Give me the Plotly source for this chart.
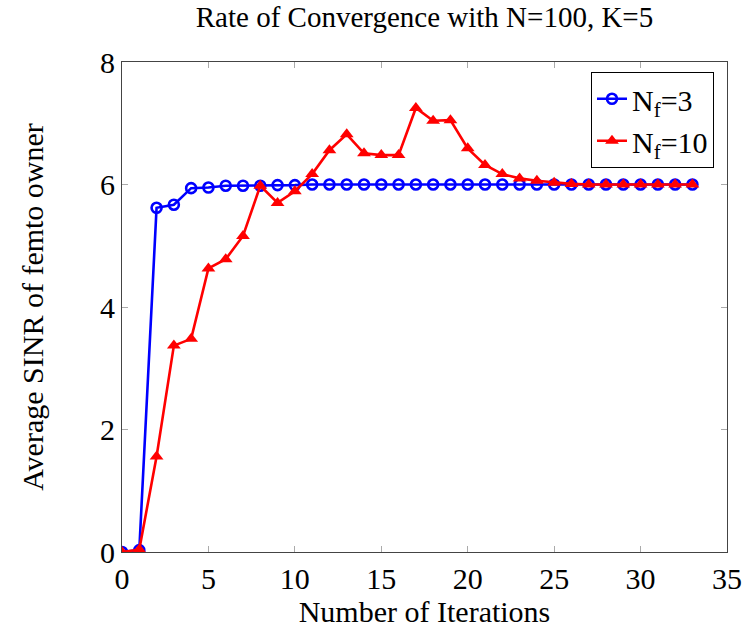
import plotly.graph_objects as go

iterations = list(range(34))
sinr_nf3 = [0.0, 0.03, 5.62, 5.67, 5.94, 5.95, 5.98, 5.98, 5.98, 5.99,
            5.99, 6.0, 6.0, 6.0, 6.0, 6.0, 6.0, 6.0, 6.0, 6.0,
            6.0, 6.0, 6.0, 6.0, 6.0, 6.0, 6.0, 6.0, 6.0, 6.0,
            6.0, 6.0, 6.0, 6.0]
sinr_nf10 = [0.0, 0.04, 1.56, 3.37, 3.48, 4.63, 4.78, 5.16, 5.98, 5.70,
             5.89, 6.17, 6.56, 6.82, 6.51, 6.48, 6.48, 7.25, 7.04, 7.05,
             6.59, 6.32, 6.17, 6.10, 6.06, 6.03, 6.01, 6.0, 6.0, 6.0,
             6.0, 6.0, 6.0, 6.0]
x_ticks = [0, 5, 10, 15, 20, 25, 30, 35]
y_ticks = [0, 2, 4, 6, 8]

FONT = "Liberation Serif"
FS = 30

fig = go.Figure()
fig.add_trace(go.Scatter(
    x=iterations, y=sinr_nf3, mode="lines+markers", name="N<sub>f</sub>=3",
    line=dict(color="#0000ff", width=2.6),
    marker=dict(symbol="circle-open", size=10, color="#0000ff", line=dict(width=2.6, color="#0000ff")),
))
fig.add_trace(go.Scatter(
    x=iterations, y=sinr_nf10, mode="lines+markers", name="N<sub>f</sub>=10",
    line=dict(color="#ff0000", width=2.6),
    marker=dict(symbol="triangle-up", size=12, color="#ff0000"),
))

axis_common = dict(
    showgrid=False, zeroline=False, showline=True, linecolor="#444444", linewidth=1.2,
    mirror="ticks", ticks="inside", ticklen=6, tickcolor="#aaaaaa", tickwidth=1,
    tickfont=dict(family=FONT, size=FS, color="black"), automargin=False,
)

fig.update_layout(
    width=743, height=630,
    margin=dict(l=122, r=16, t=62, b=78),
    paper_bgcolor="white", plot_bgcolor="white",
    title=dict(text="Rate of Convergence with N=100, K=5", x=(122 + 727) / 2 / 743, xanchor="center",
               y=1 - 17 / 630, yanchor="middle",
               font=dict(family=FONT, size=FS - 1, color="black")),
    xaxis=dict(range=[0, 35], tickvals=x_ticks,
               title=dict(text="Number of Iterations", font=dict(family=FONT, size=FS, color="black"), standoff=6),
               **axis_common),
    yaxis=dict(range=[0, 8], tickvals=y_ticks,
               title=dict(text="Average SINR of femto owner", font=dict(family=FONT, size=FS, color="black"), standoff=47),
               **axis_common),
    legend=dict(x=0.9785, y=0.98, xanchor="right", yanchor="top",
                bordercolor="black", borderwidth=1, bgcolor="white",
                font=dict(family=FONT, size=FS, color="black"),
                tracegroupgap=0, entrywidth=115, entrywidthmode="pixels"),
    showlegend=True,
)

fig.write_html("out.html")
